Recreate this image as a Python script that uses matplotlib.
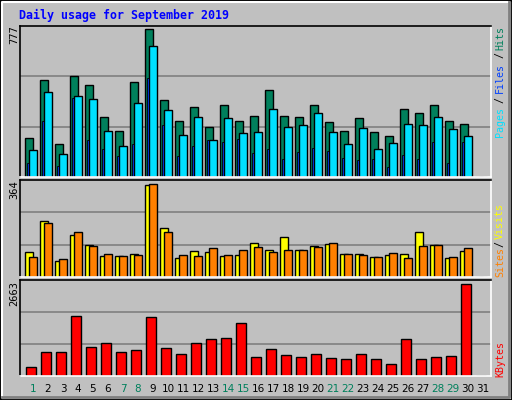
import matplotlib
matplotlib.use("Agg")
import matplotlib.pyplot as plt
from matplotlib.patches import Rectangle
from matplotlib.lines import Line2D

days = list(range(1, 32))
hits = [207,508,171,529,482,313,244,497,777,403,292,366,265,376,292,323,455,323,318,381,287,244,308,234,218,355,339,376,297,281,0]
files = [144,445,123,424,408,244,165,387,687,350,223,318,192,308,229,239,355,265,271,334,239,171,260,149,181,281,276,313,255,213,0]
pages = [76,292,60,413,192,149,112,171,519,271,112,165,197,186,202,128,149,97,134,155,139,102,91,97,54,118,97,186,76,186,0]
sites = [100,219,61,164,124,84,84,92,361,191,73,104,100,84,88,132,108,156,108,120,128,92,92,80,88,92,175,124,73,104,0]
visits = [80,211,69,175,120,92,84,88,364,175,88,84,112,88,108,116,100,108,108,116,132,92,88,80,96,76,120,124,80,112,0]
kbytes = [272,709,709,1730,855,972,709,768,1701,826,651,972,1089,1118,1526,564,797,622,564,651,535,505,651,505,360,1089,505,564,593,2663,0]
weekend = [1,7,8,14,15,21,22,28,29]
title = "Daily usage for September 2019"

W, H = 512, 400
BG = "#C0C0C0"
fig = plt.figure(figsize=(5.12, 4.0), dpi=100, facecolor=BG)

def rect(x0, y0, x1, y1):
    return [x0 / W, 1 - y1 / H, (x1 - x0) / W, (y1 - y0) / H]

# outer bevel
fig.patches.append(Rectangle((0, 0), 1, 1, transform=fig.transFigure, fill=False, ec="black", lw=2))
fig.lines.append(Line2D([2/W, 2/W, 1-3/W], [3/H, 1-2/H, 1-2/H], transform=fig.transFigure, color="white", lw=1.5))
fig.lines.append(Line2D([2/W, 1-3/W, 1-3/W], [3/H, 3/H, 1-2/H], transform=fig.transFigure, color="#808080", lw=2))

fig.text(19/W, 1 - 15/H, title, color="#0000FF", fontsize=8.4, fontweight="bold",
         family="DejaVu Sans Mono", va="center", ha="left")

XL = (-5/15, -5/15 + 471/15)

def panel(y0, y1, ymax):
    ax = fig.add_axes(rect(20, y0, 491, y1))
    ax.set_facecolor(BG)
    ax.set_xlim(*XL)
    ax.set_ylim(0, ymax)
    for f in (1/3, 2/3):
        ax.axhline(ymax * f, color="#808080", lw=1.2, zorder=0)
    ax.set_xticks([]); ax.set_yticks([])
    ax.spines["left"].set_color("black"); ax.spines["top"].set_color("black")
    ax.spines["right"].set_color("white"); ax.spines["bottom"].set_color("white")
    for s in ax.spines.values():
        s.set_linewidth(1.2)
    return ax

def bars(ax, vals, off0, off1, color, lw=1.0):
    xs = [d - 1 + off0 for d in days]
    ax.bar(xs, vals, width=off1 - off0, align="edge", color=color, edgecolor="black", linewidth=lw, zorder=2)

ax1 = panel(26, 177, 794)
bars(ax1, hits, 0, 8/15, "#00805C")
bars(ax1, pages, 2/15, 4.2/15, "#0040FF", lw=0.6)
bars(ax1, files, 4/15, 12/15, "#00E0FF")

ax2 = panel(180, 277, 381)
bars(ax2, sites, 0, 8/15, "#FFFF00")
bars(ax2, visits, 4/15, 12/15, "#FF8000")

ax3 = panel(280, 376, 2788)
bars(ax3, kbytes, 1/15, 11/15, "#FF0000")

# left max labels
for txt, yc in (("777", 35), ("364", 190), ("2663", 294)):
    fig.text(14/W, 1 - yc/H, txt, rotation=90, fontsize=7.5, family="DejaVu Sans Mono",
             ha="center", va="center", color="black")

# right legend labels
def rlabel(txt, yc, color):
    fig.text(500/W, 1 - yc/H, txt, rotation=90, fontsize=7.2, family="DejaVu Sans Mono",
             ha="center", va="center", color=color)

rlabel("Hits", 38, "#00805C"); rlabel("/", 55, "black"); rlabel("Files", 78, "#0040FF")
rlabel("/", 100, "black"); rlabel("Pages", 122, "#00E0FF")
rlabel("Visits", 221, "#FFFF00"); rlabel("/", 244, "black"); rlabel("Sites", 262, "#FF8000")
rlabel("KBytes", 359, "#FF0000")

# day labels
for d in days:
    xpix = 20 + (d - 1 + 8/15 - XL[0]) * 15
    fig.text(xpix/W, 1 - 389/H, str(d), fontsize=7.5, ha="center", va="center",
             color="#00805C" if d in weekend else "black")

fig.savefig("out.png", dpi=100, facecolor=BG)
